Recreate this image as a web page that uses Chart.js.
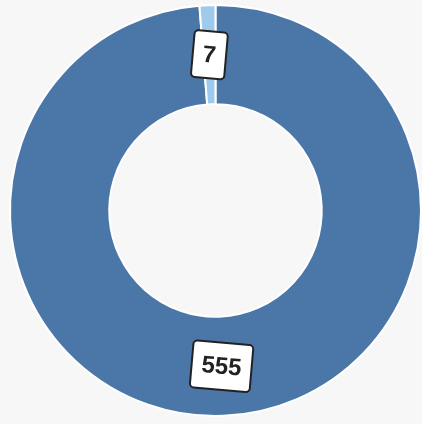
<!DOCTYPE html>
<html>
<head>
<meta charset="utf-8">
<script src="https://cdn.jsdelivr.net/npm/chart.js@4/dist/chart.umd.min.js"></script>
<style>
  html, body { margin: 0; padding: 0; background: #f7f7f7; }
  #wrap { width: 422px; height: 424px; }
</style>
</head>
<body>
<div id="wrap"><canvas id="donut" width="422" height="424"></canvas></div>
<script>
// Chart data
const categories = ['Main', 'Other'];
const values = [555, 7];
const colors = ['#4b77a8', '#a0caeb'];

// Draws value labels in tilted white boxes at the middle of each arc
const boxLabels = {
    id: 'boxLabels',
    afterDatasetsDraw(chart) {
        const g = chart.ctx;
        const meta = chart.getDatasetMeta(0);
        meta.data.forEach((arc, i) => {
            const p = arc.tooltipPosition();
            const text = String(chart.data.datasets[0].data[i]);
            g.save();
            g.translate(p.x, p.y);
            g.rotate(5 * Math.PI / 180);
            g.font = 'bold 24px "Liberation Sans", Arial, sans-serif';
            const w = g.measureText(text).width + 20;
            const h = 47;
            g.beginPath();
            g.roundRect(-w / 2, -h / 2, w, h, 4);
            g.fillStyle = '#ffffff';
            g.fill();
            g.lineWidth = 2;
            g.strokeStyle = '#222222';
            g.stroke();
            g.fillStyle = '#222222';
            g.textAlign = 'center';
            g.textBaseline = 'middle';
            g.fillText(text, 0, 1);
            g.restore();
        });
    }
};

new Chart(document.getElementById('donut'), {
    type: 'doughnut',
    data: {
        labels: categories,
        datasets: [{
            data: values,
            backgroundColor: colors,
            borderColor: '#ffffff',
            borderWidth: 2
        }]
    },
    options: {
        responsive: false,
        animation: false,
        cutout: '51.7%',
        layout: { padding: { left: 9, right: 0, top: 4, bottom: 7 } },
        plugins: {
            legend: { display: false },
            tooltip: { enabled: false }
        }
    },
    plugins: [boxLabels]
});
</script>
</body>
</html>
